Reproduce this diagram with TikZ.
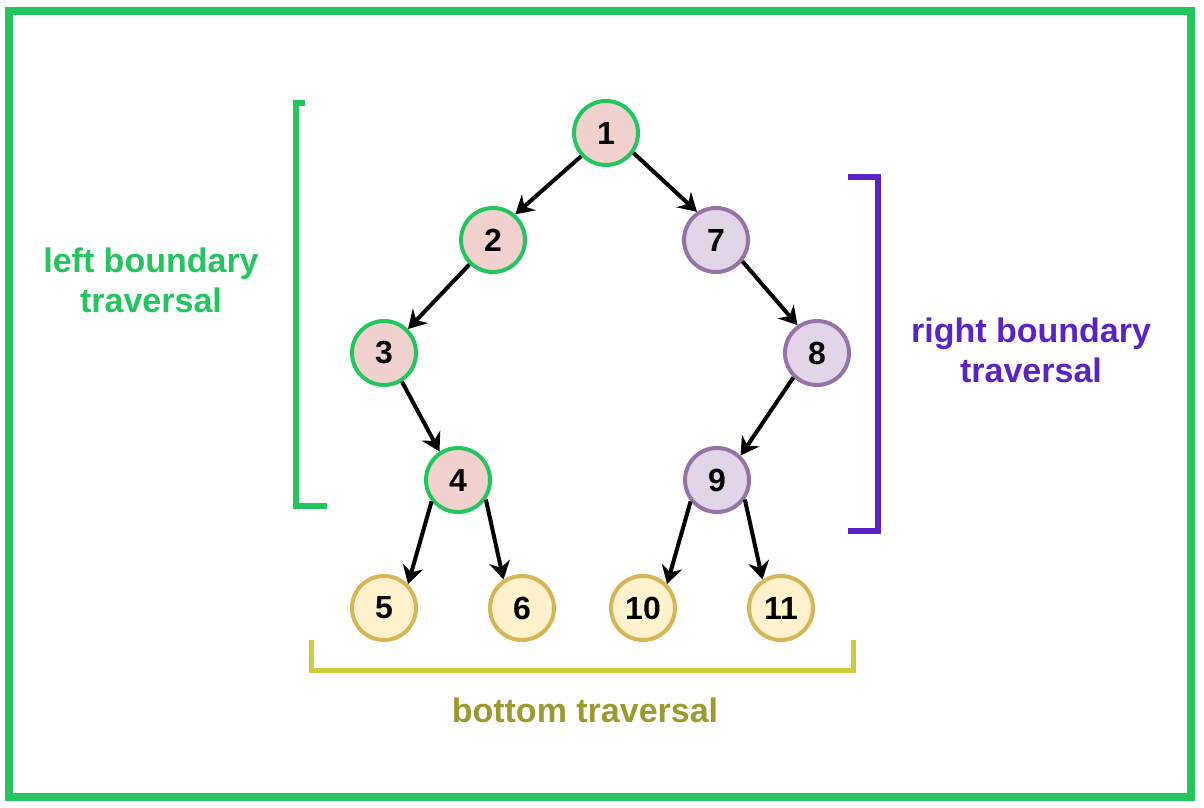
\documentclass[tikz,border=0pt]{standalone}
\usepackage{fontspec}
\setmainfont{Liberation Sans}
\usetikzlibrary{arrows.meta}
\definecolor{frgreen}{HTML}{22C55E}
\definecolor{pinkfill}{HTML}{F1D1CE}
\definecolor{purstroke}{HTML}{9673A6}
\definecolor{purfill}{HTML}{E1D5E7}
\definecolor{yelstroke}{HTML}{D6B656}
\definecolor{yelfill}{HTML}{FFF2CC}
\definecolor{violet}{HTML}{5B22C6}
\definecolor{brkyellow}{HTML}{D0CC40}
\definecolor{olivetext}{HTML}{9C9A2E}
\tikzset{
  treenode/.style={circle, minimum size=64pt, inner sep=0pt, line width=4pt,
    font=\fontsize{32}{32}\selectfont\bfseries},
  leftnode/.style={treenode, draw=frgreen, fill=pinkfill},
  rightnode/.style={treenode, draw=purstroke, fill=purfill},
  leafnode/.style={treenode, draw=yelstroke, fill=yelfill},
  edge/.style={line width=4pt, -{Stealth[length=18pt, width=21pt, inset=6pt]}},
  bracket/.style={line width=6pt, line join=miter, line cap=butt},
  lbl/.style={align=center, font=\fontsize{34}{40}\selectfont\bfseries, inner sep=0pt}
}
\begin{document}
\begin{tikzpicture}[x=1pt, y=-1pt]
\useasboundingbox (0,0) rectangle (1204,808);
% outer frame
\draw[frgreen, line width=7.5pt] (9,11) rectangle (1191,797);

% nodes
\node[leftnode] (n1) at (606,133) {1};
\node[leftnode] (n2) at (493,240) {2};
\node[rightnode] (n7) at (716,240) {7};
\node[leftnode] (n3) at (384,353) {3};
\node[rightnode] (n8) at (817,353) {8};
\node[leftnode] (n4) at (458,480) {4};
\node[rightnode] (n9) at (717,480) {9};
\node[leafnode] (n5) at (384,608) {5};
\node[leafnode] (n6) at (522,608) {6};
\node[leafnode] (n10) at (643,608) {10};
\node[leafnode] (n11) at (781,608) {11};

% edges
\draw[edge] (n1.223) -- (n2.49);
\draw[edge] (n1.-36) -- (n7.124);
\draw[edge] (n2.226) -- (n3.45);
\draw[edge] (n7.-39) -- (n8.125);
\draw[edge] (n3.-58) -- (n4.123);
\draw[edge] (n8.226) -- (n9.46);
\draw[edge] (n4.219) -- (n5.45);
\draw[edge] (n4.-35) -- (n6.123);
\draw[edge] (n9.219) -- (n10.45);
\draw[edge] (n9.-35) -- (n11.123);

% brackets
\coordinate (lb1) at (305,103);
\coordinate (lb2) at (296,103);
\coordinate (lb3) at (296,506);
\coordinate (lb4) at (327,506);
\draw[bracket, frgreen] (lb1) -- (lb2) -- (lb3) -- (lb4);

\coordinate (rb1) at (848,177);
\coordinate (rb2) at (878,177);
\coordinate (rb3) at (878,531);
\coordinate (rb4) at (848,531);
\draw[bracket, violet] (rb1) -- (rb2) -- (rb3) -- (rb4);

\coordinate (bb1) at (311,640);
\coordinate (bb2) at (311,670);
\coordinate (bb3) at (853,670);
\coordinate (bb4) at (853,640);
\draw[bracket, brkyellow, line width=5pt] (bb1) -- (bb2) -- (bb3) -- (bb4);

% labels
\node[lbl, text=frgreen] (tleft) at (151,280) {left boundary\\traversal};
\node[lbl, text=violet] (tright) at (1031,350) {right boundary\\traversal};
\node[lbl, text=olivetext, anchor=base] (tbottom) at (585,722) {bottom traversal};
\end{tikzpicture}
\end{document}
